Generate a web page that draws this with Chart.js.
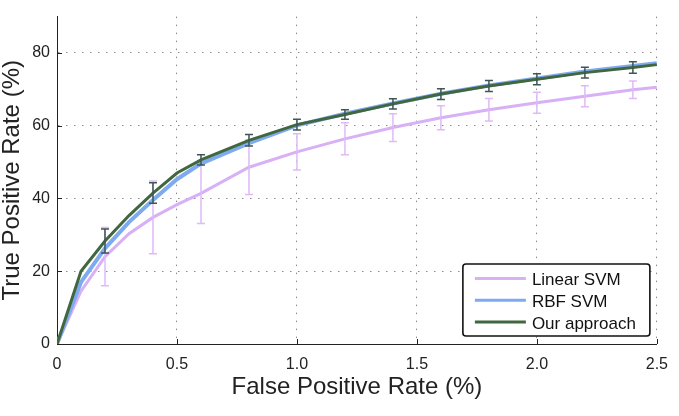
<!DOCTYPE html>
<html>
<head>
<meta charset="utf-8">
<script src="https://cdn.jsdelivr.net/npm/chart.js@4.4.0/dist/chart.umd.min.js"></script>
<style>
  html, body { margin: 0; padding: 0; background: #fff; }
  #wrap { width: 679px; height: 416px; }
</style>
</head>
<body>
<div id="wrap"><canvas id="roc" width="679" height="416"></canvas></div>
<script>
// false positive rate (%) sample points
const fpr = [0, 0.1, 0.2, 0.3, 0.4, 0.5, 0.6, 0.8, 1.0, 1.2, 1.4, 1.6, 1.8, 2.0, 2.2, 2.4, 2.5];
// true positive rate (%) per method
const linearTpr = [0, 14.5, 24, 30.3, 34.8, 38.3, 41.4, 48.6, 52.8, 56.4, 59.5, 62.2, 64.4, 66.3, 68.1, 69.9, 70.6];
const rbfTpr    = [0, 17, 26.3, 33.5, 39.6, 45.3, 49.6, 55.2, 60.1, 63.3, 66.1, 68.8, 71.1, 73.0, 74.9, 76.4, 77.2];
const oursTpr   = [0, 20, 28.3, 35.3, 41.5, 47.0, 50.6, 56.0, 60.3, 63.1, 66.0, 68.7, 70.9, 72.8, 74.6, 76.0, 76.8];
// error bar half-lengths (null = no bar)
const linearErr = [null, null, 8.0, null, 10.0, null, 8.3, 7.5, 5.0, 4.4, 3.8, 3.3, 3.1, 2.9, 2.9, 2.4, null];
const oursErr   = [null, null, 3.3, null, 2.8, null, 1.4, 1.6, 1.5, 1.3, 1.4, 1.5, 1.5, 1.5, 1.5, 1.6, null];

const FONT = "'Liberation Sans', Arial, Helvetica, sans-serif";

function pts(ys) { return fpr.map((x, i) => ({ x: x, y: ys[i] })); }

// vertical error bars, drawn right after their own line
const errorBars = {
	id: 'errorBars',
	afterDatasetDraw(chart, args) {
		const ds = chart.data.datasets[args.index];
		if (!ds.errors) return;
		const xs = chart.scales.x, ys = chart.scales.y, ctx = chart.ctx;
		ctx.save();
		ctx.strokeStyle = ds.errColor;
		ctx.lineWidth = ds.errWidth;
		ds.data.forEach((p, i) => {
			const e = ds.errors[i];
			if (e == null) return;
			const x = xs.getPixelForValue(p.x);
			const y1 = ys.getPixelForValue(p.y + e), y2 = ys.getPixelForValue(p.y - e);
			ctx.beginPath();
			ctx.moveTo(x, y1); ctx.lineTo(x, y2);
			ctx.moveTo(x - 4, y1); ctx.lineTo(x + 4, y1);
			ctx.moveTo(x - 4, y2); ctx.lineTo(x + 4, y2);
			ctx.stroke();
		});
		ctx.restore();
	}
};

// inward tick marks like matlab
const innerTicks = {
	id: 'innerTicks',
	beforeDatasetsDraw(chart) {
		const ctx = chart.ctx, a = chart.chartArea;
		ctx.save();
		ctx.strokeStyle = '#222';
		ctx.lineWidth = 1;
		ctx.beginPath();
		chart.scales.x.ticks.forEach(t => {
			const x = Math.round(chart.scales.x.getPixelForValue(t.value)) + 0.5;
			ctx.moveTo(x, a.bottom); ctx.lineTo(x, a.bottom - 5);
		});
		chart.scales.y.ticks.forEach(t => {
			const y = Math.round(chart.scales.y.getPixelForValue(t.value)) + 0.5;
			ctx.moveTo(a.left, y); ctx.lineTo(a.left + 5, y);
		});
		ctx.stroke();
		ctx.restore();
	}
};

// legend box in the lower right corner of the plot
const boxLegend = {
	id: 'boxLegend',
	afterDraw(chart) {
		const ctx = chart.ctx, a = chart.chartArea;
		const w = 187, h = 72;
		const left = a.right - 7 - w, top = a.bottom - 8 - h;
		ctx.save();
		ctx.fillStyle = '#fff';
		ctx.strokeStyle = '#111';
		ctx.lineWidth = 1.6;
		ctx.beginPath();
		ctx.roundRect(left, top, w, h, 3);
		ctx.fill();
		ctx.stroke();
		ctx.font = '17px ' + FONT;
		ctx.textBaseline = 'middle';
		ctx.fillStyle = '#111';
		chart.data.datasets.forEach((ds, i) => {
			const y = top + 14.5 + i * 21.7;
			ctx.strokeStyle = ds.borderColor;
			ctx.lineWidth = 3;
			ctx.beginPath();
			ctx.moveTo(left + 12, y); ctx.lineTo(left + 63, y);
			ctx.stroke();
			ctx.fillText(ds.label, left + 69, y + 2);
		});
		ctx.restore();
	}
};

new Chart(document.getElementById('roc'), {
	type: 'line',
	data: {
		datasets: [
			{ label: 'Linear SVM', data: pts(linearTpr), borderColor: '#d8b0f5', borderWidth: 3, order: 3,
			  errors: linearErr, errColor: '#dfbaf7', errWidth: 1.5 },
			{ label: 'RBF SVM', data: pts(rbfTpr), borderColor: '#7eaaef', borderWidth: 4, order: 2 },
			{ label: 'Our approach', data: pts(oursTpr), borderColor: '#41673f', borderWidth: 3, order: 1,
			  errors: oursErr, errColor: '#3f5656', errWidth: 1.5 }
		]
	},
	options: {
		responsive: false,
		animation: false,
		devicePixelRatio: 1,
		layout: { padding: { left: 0, right: 20, top: 5, bottom: 0 } },
		elements: { point: { radius: 0 }, line: { tension: 0 } },
		plugins: { legend: { display: false }, tooltip: { enabled: false } },
		scales: {
			x: {
				type: 'linear', min: 0, max: 2.5,
				ticks: { stepSize: 0.5, padding: 11, color: '#222', font: { family: FONT, size: 16 } },
				grid: { color: '#8a8a8a', lineWidth: 1, drawTicks: false },
				border: { display: true, color: '#222', width: 1, dash: [1.5, 6.5] },
				title: { display: true, text: 'False Positive Rate (%)', color: '#222',
					font: { family: FONT, size: 24, lineHeight: 1 }, padding: { top: 0, bottom: 17 } },
				afterFit: s => { s.height = 72; }
			},
			y: {
				type: 'linear', min: 0, max: 90,
				ticks: { stepSize: 20, padding: 7, color: '#222', font: { family: FONT, size: 16 } },
				afterBuildTicks: s => { s.ticks = s.ticks.filter(t => t.value <= 80); },
				grid: { color: '#8a8a8a', lineWidth: 1, drawTicks: false },
				border: { display: true, color: '#222', width: 1, dash: [1.5, 6.5] },
				title: { display: true, text: 'True Positive Rate (%)', color: '#222',
					font: { family: FONT, size: 24, lineHeight: 1 }, padding: { top: 0, bottom: 0 } },
				afterFit: s => { s.width = 57; }
			}
		}
	},
	plugins: [errorBars, innerTicks, boxLegend]
});
</script>
</body>
</html>
